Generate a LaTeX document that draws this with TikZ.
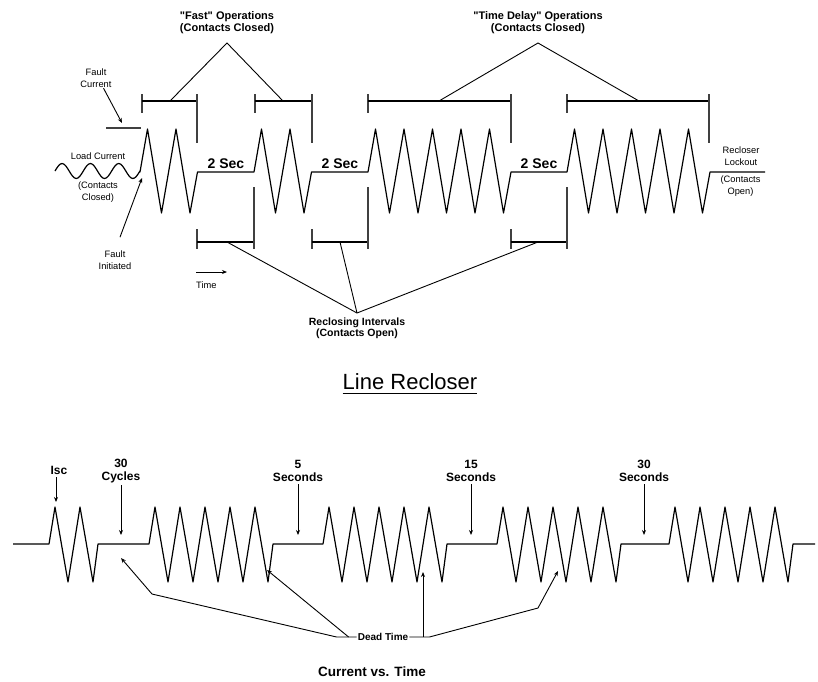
\documentclass[tikz,border=0pt]{standalone}
\usepackage{fontspec}
\setmainfont{Liberation Sans}
\usetikzlibrary{arrows.meta, positioning}
\tikzset{
  wave/.style={line width=1.2pt, black, line join=round},
  brk/.style={line width=1.7pt, black!75},
  span/.style={line width=1.2pt, black},
  leader/.style={line width=0.9pt, black},
  annarr/.style={-{Stealth[length=5pt, width=4pt]}, line width=0.9pt, black},
  smlbl/.style={font=\fontsize{9.3}{12}\selectfont, inner sep=0pt, align=center},
  oplbl/.style={font=\fontsize{11}{12.5}\selectfont\bfseries, inner sep=0pt, align=center},
  seclbl/.style={font=\fontsize{14}{16}\selectfont\bfseries, inner sep=0pt},
  btlbl/.style={font=\fontsize{12}{13.3}\selectfont\bfseries, inner sep=0pt, align=center},
}
\def\tBase{172}
\def\tHi{129}
\def\tLo{213}
\def\tP{28.5}
\def\bBase{544}
\def\bHi{507}
\def\bLo{582}
\def\bP{25}

\begin{document}
\begin{tikzpicture}[x=1pt, y=-1pt]
\useasboundingbox (0,0) rectangle (818,681);

% =====================================================================
%  LINE RECLOSER SEQUENCE
% =====================================================================

% load current, then fast and time delay operations
\draw[wave] (55,171)
  \foreach \k in {0,1,2} {
    sin ({55+7.08*(4*\k+1)},163.5) cos ({55+7.08*(4*\k+2)},171)
    sin ({55+7.08*(4*\k+3)},178.5) cos ({55+7.08*(4*\k+4)},171)
  }
  \foreach \xo/\nc in {140/2, 254/2, 368/5, 567/5} {
    -- (\xo,\tBase)
    \foreach \k in {1,...,\nc} {
      -- ({\xo+7.5+(\k-1)*\tP},\tHi) -- ({\xo+21.5+(\k-1)*\tP},\tLo)
    }
    -- ({\xo+29+(\nc-1)*\tP},\tBase)
  }
  -- (765,\tBase);

% --- brackets over the operations ---
\foreach \lx/\rx in {142/197, 255/312, 368/511, 567/709} {
  \draw[brk] (\lx,94) -- (\lx,113);
  \draw[span] (\lx,101) -- (\rx,101);
  \draw[brk] (\rx,94) -- (\rx,143);
}

% --- brackets under the reclosing intervals ---
\foreach \lx/\rx in {197/254, 312/368, 511/567} {
  \draw[brk] (\lx,229) -- (\lx,249);
  \draw[span] (\lx,242) -- (\rx,242);
  \draw[brk] (\rx,187) -- (\rx,249);
}

% --- dead time labels ---
\foreach \name/\x in {secA/226, secB/340, secC/539} {
  \node[seclbl] (\name) at (\x,164) {2 Sec};
}

% --- operation labels ---
\coordinate (fastA) at (170,101);
\coordinate (fastB) at (283,101);
\coordinate (fastTop) at (227,43);
\node[oplbl, above=9pt of fastTop] (fastlbl)
  {\textquotedbl Fast\textquotedbl{} Operations\\(Contacts Closed)};
\draw[leader] (fastA) -- (fastTop) -- (fastB);

\coordinate (tdA) at (439,101);
\coordinate (tdB) at (639,101);
\coordinate (tdTop) at (538,43);
\node[oplbl, above=9pt of tdTop] (tdlbl)
  {\textquotedbl Time Delay\textquotedbl{} Operations\\(Contacts Closed)};
\draw[leader] (tdA) -- (tdTop) -- (tdB);

\coordinate (recA) at (227,242);
\coordinate (recB) at (340,242);
\coordinate (recC) at (538,242);
\coordinate (recBot) at (357,313);
\node[oplbl, font=\fontsize{10.5}{11}\selectfont\bfseries, below=5pt of recBot] (reclbl)
  {Reclosing Intervals\\(Contacts Open)};
\draw[leader] (recA) -- (recBot) -- (recC);
\draw[leader] (recB) -- (recBot);

% --- small annotations ---
\node[smlbl] (fclbl) at (96,78.6) {Fault\\Current};
\coordinate (fcTip) at (122,123);
\draw[annarr] (fclbl.-52) -- (fcTip);
\coordinate (fcLvl) at (106,128);
\draw[brk] (fcLvl) -- ++(35,0);

\node[smlbl] (loadlbl) at (98,156) {Load Current};
\node[smlbl] (loadcc) at (98,191.8) {(Contacts\\Closed)};

\node[smlbl] (filbl) at (115,259.8) {Fault\\Initiated};
\coordinate (fiTip) at (142,178);
\draw[annarr] ([shift={(5pt,13pt)}]filbl.north) -- (fiTip);

\node[smlbl, anchor=west] (timelbl) at (196,285) {Time};
\draw[annarr] ([yshift=13pt]timelbl.west) -- ++(31,0);

\node[smlbl] (lockout) at (741,156.5) {Recloser\\Lockout};
\node[smlbl] (lockcc) at (740.5,186.1) {(Contacts\\Open)};

% title
\node[font=\fontsize{22}{24}\selectfont, inner sep=0pt] (title) at (410,382) {Line Recloser};
\draw[line width=1.4pt] ([yshift=-3pt]title.south west) -- ([yshift=-3pt]title.south east);

% =====================================================================
%  CURRENT VS. TIME
% =====================================================================

\draw[wave] (13,\bBase)
  \foreach \xo/\nc in {49/2, 149/5, 323/5, 497/5, 669/5} {
    -- (\xo,\bBase)
    \foreach \k in {1,...,\nc} {
      -- ({\xo+6+(\k-1)*\bP},\bHi) -- ({\xo+19+(\k-1)*\bP},\bLo)
    }
    -- ({\xo+24+(\nc-1)*\bP},\bBase)
  }
  -- (815,\bBase);

% --- interval labels ---
\node[btlbl] (isclbl) at (59,470) {Isc};
\coordinate (iscTip) at (56,502);
\draw[annarr] (iscTip |- isclbl.south) ++(0,3) -- (iscTip);

\foreach \name/\x/\txt in {cyc/121/{30\\Cycles}, sfive/298/{5\\Seconds},
                           sfifteen/471/{15\\Seconds}, sthirty/644/{30\\Seconds}} {
  \node[btlbl] (\name) at (\x,471) {\txt};
  \coordinate (\name tip) at (\x,535);
  \draw[annarr] (\name.south) ++(0,2) -- (\name tip);
}

% --- dead time pointers ---
\node[font=\fontsize{10}{12}\selectfont\bfseries, inner sep=1pt] (deadlbl) at (383,637) {Dead Time};
\coordinate (dtA) at (121,558);
\coordinate (dtB) at (267,570);
\coordinate (dtC) at (423,572);
\coordinate (dtD) at (558,571);
\draw[annarr] (deadlbl.west) -- ++(-20,0) -- (152,594) -- (dtA);
\draw[annarr] ([xshift=-8pt]deadlbl.west) -- (dtB);
\draw[annarr] (dtC |- deadlbl.east) -- (dtC);
\draw[annarr] (deadlbl.east) -- ++(20,0) -- (538,608) -- (dtD);

\node[font=\fontsize{13.5}{15}\selectfont\bfseries, inner sep=0pt] (cvt) at (372,672) {Current vs. Time};

\end{tikzpicture}
\end{document}
